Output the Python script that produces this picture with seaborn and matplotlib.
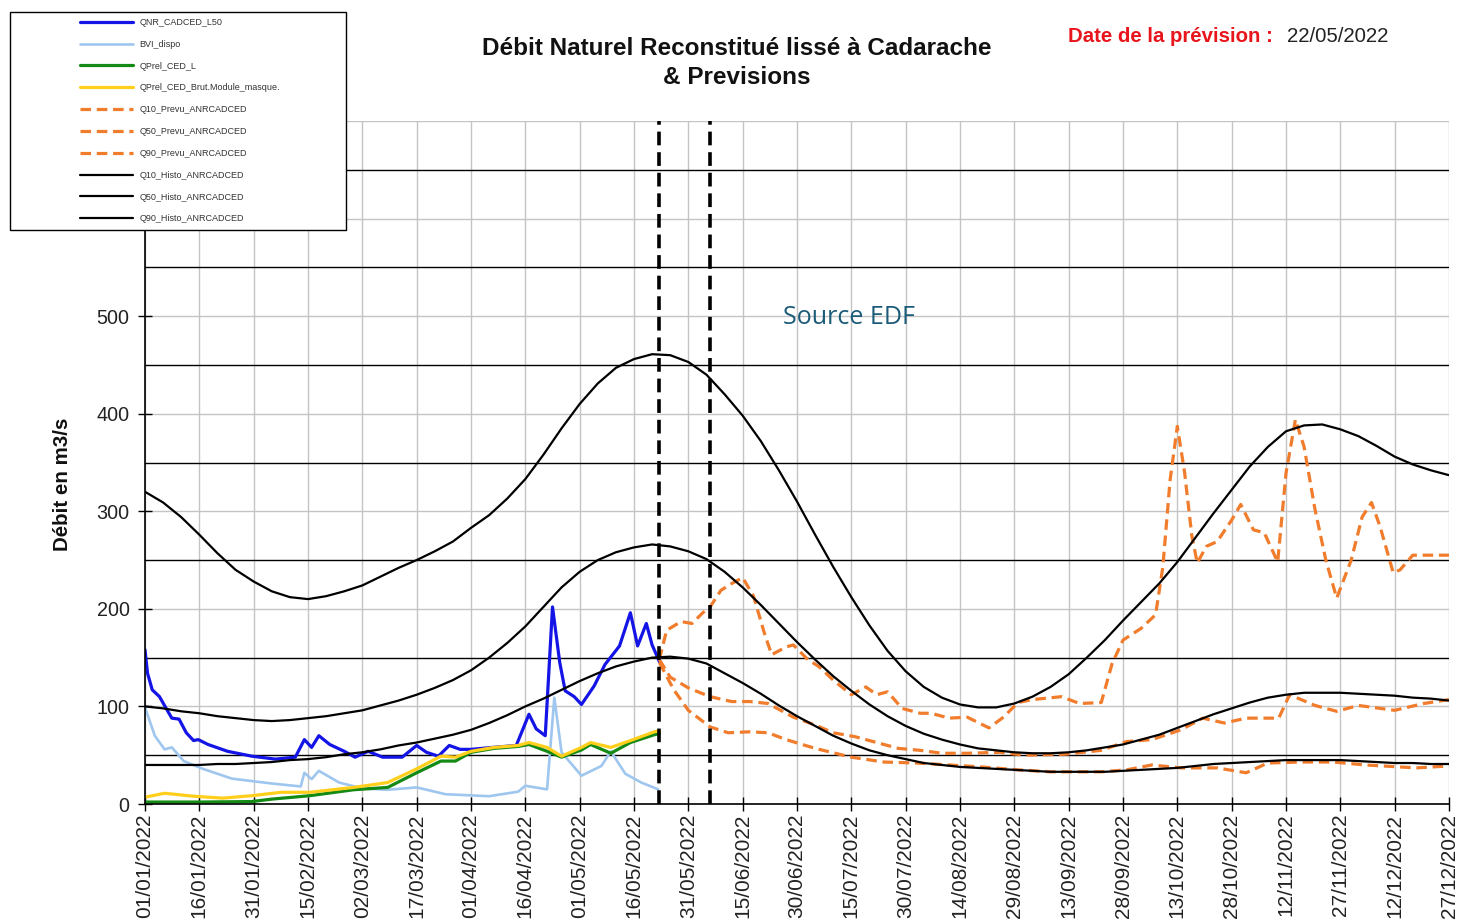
import pandas as pd
import matplotlib.pyplot as plt
import matplotlib.dates as mdates
import matplotlib.patches as mpatches
from matplotlib.ticker import MultipleLocator
import seaborn as sns

# jours comptés depuis le 01/01/2022
DEBUT = pd.Timestamp('2022-01-01')

# --- observé ---
qnr_jours = [0, 0.7, 2, 4, 6, 7.4, 9.4, 11.4, 13.4, 14.7, 17.4, 22.8, 29.5, 36, 41.5, 44, 46, 48,
             51, 55, 58, 61.6, 65.6, 71, 75, 77.7, 81, 84, 87, 90, 96, 102.5, 106, 108, 110.5,
             112.5, 114.5, 116, 118.5, 120.5, 124, 127, 131, 134, 136, 138.4, 140, 142]
qnr_vals = [158, 134, 117, 110, 97, 88, 87, 73, 65, 66, 61, 54, 49, 46, 48, 66, 58, 70,
            61, 54, 48, 54, 48, 48, 60, 53, 49, 60, 56, 56, 58, 60, 92, 77, 70,
            202, 145, 116, 110, 102, 121, 143, 162, 196, 162, 185, 163, 146]

bvi_jours = [0, 2.7, 5.4, 7.4, 10.7, 16, 24, 35, 43, 44, 46, 48, 53.6, 60, 67, 75, 83, 95,
             103, 105, 111, 113, 115, 120.5, 126, 128.6, 132.6, 137, 141.7]
bvi_vals = [99, 70, 56, 58, 44, 36, 26, 21, 18, 32, 25.5, 34, 22, 16, 14.6, 17, 10, 8,
            12.6, 18.7, 15, 109, 53, 29, 39, 54, 31, 22, 15]

ced_jours = [0, 15, 29.5, 35, 45.5, 57.6, 67, 75, 81.7, 85.7, 90, 96.4, 103, 106, 111, 115,
             120.5, 123, 128.6, 134, 140.6, 142]
ced_vals = [2, 2, 2.5, 5, 8.5, 14.6, 17, 32, 44, 44, 53, 57, 59, 61, 54, 48,
            55.4, 61, 52, 63, 71, 72]

brut_jours = [0, 5.4, 13.4, 21.4, 29.5, 37.5, 45.5, 57.6, 67, 75, 81.7, 85.7, 90, 96.4, 103,
              106, 111, 115, 120.5, 123, 128.6, 134, 140.6, 142]
brut_vals = [7, 11, 8, 6, 8.5, 12, 12, 17, 22, 36, 49, 48, 54, 58, 60,
             63, 58, 49, 58, 63, 58, 65, 74, 75]

# --- prévisions ---
q90p_jours = [142, 144, 148, 151, 154, 156, 159, 162, 165, 168, 171, 173, 177, 179, 183, 186,
              190, 195, 199, 202, 205, 209, 214, 217, 222, 227, 233, 237, 241, 245, 253, 258,
              264, 267, 270, 275, 279, 281, 283, 285, 287, 289, 290.5, 293, 296, 300, 302.5,
              306, 309, 312.7, 315, 317.6, 320, 323, 326, 329, 333, 336, 338.6, 341, 344.6,
              346.5, 350, 360]
q90p_vals = [148, 178, 187, 185, 196, 202, 219, 226, 232, 213, 175, 153, 161, 163, 148, 141,
             127, 112, 120, 112, 115, 98, 93, 93, 88, 89, 78, 89, 104, 107, 110, 103,
             104, 144, 168, 180, 194, 243, 332, 387, 340, 275, 247, 264, 269, 291, 307,
             281, 278, 248, 339, 394, 366, 302, 250, 211, 250, 294, 309, 284, 237,
             240, 255, 255]

q50p_jours = [142, 145, 150, 156, 162, 167, 172, 179, 185, 190, 196, 199, 208, 214, 220, 227,
              236, 243, 254, 264, 271, 278, 286, 292, 298, 304, 313, 316, 323, 329, 335, 345,
              353, 360]
q50p_vals = [148, 130, 119, 110, 105, 105, 103, 89, 81, 73, 69, 66, 57, 55, 52, 52,
             53, 50, 51, 55, 64, 66, 76, 88, 83, 88, 88, 112, 101, 95, 101, 96,
             103, 107]

q10p_jours = [142, 146, 150, 156, 161, 167, 172, 177, 185, 195, 204, 213, 222, 231, 241, 250,
              264, 271, 278, 286, 296, 304, 310, 319, 328, 337, 351, 360]
q10p_vals = [145, 117, 96, 79, 73, 74, 73, 66, 57, 48, 43, 42, 40, 38, 35, 33,
             33, 35, 40, 37, 37, 32, 42, 43, 43, 40, 37, 39]

# --- historiques (relevés tous les 5 jours) ---
histo_jours = list(range(0, 361, 5))
q90h_vals = [320, 309, 294, 276, 257, 240, 228, 218, 212, 210, 213, 218, 224, 233, 242, 250,
             259, 269, 283, 296, 313, 333, 358, 385, 410, 431, 447, 456, 461, 460, 453, 440,
             420, 398, 372, 342, 310, 276, 243, 212, 183, 157, 136, 120, 109, 102, 99, 99,
             103, 110, 120, 133, 150, 168, 188, 207, 226, 248, 273, 298, 322, 346, 366, 382,
             388, 389, 384, 377, 367, 356, 348, 342, 337]
q50h_vals = [100, 98, 95, 93, 90, 88, 86, 85, 86, 88, 90, 93, 96, 101, 106, 112,
             119, 127, 137, 150, 165, 182, 202, 222, 238, 250, 258, 263, 266, 264, 259, 251,
             238, 222, 204, 185, 166, 148, 131, 116, 102, 90, 80, 72, 66, 61, 57, 55,
             53, 52, 52, 53, 55, 58, 61, 66, 71, 78, 85, 92, 98, 104, 109, 112,
             114, 114, 114, 113, 112, 111, 109, 108, 106]
q10h_vals = [40, 40, 40, 40, 41, 41, 42, 43, 45, 46, 48, 51, 53, 56, 60, 63,
             67, 71, 76, 83, 91, 100, 108, 117, 126, 134, 141, 146, 150, 151, 149, 144,
             134, 124, 113, 101, 90, 80, 70, 62, 55, 50, 46, 42, 40, 38, 37, 36,
             35, 34, 33, 33, 33, 33, 34, 35, 36, 37, 39, 41, 42, 43, 44, 45,
             45, 45, 45, 44, 43, 42, 42, 41, 41]

date_prevision = '2022-05-23'
date_limite = '2022-06-06'

tirets = (0, (3.3, 1.8))
series = [
    ('QNR_CADCED_L50', qnr_jours, qnr_vals, '#1414e6', 2.3, '-'),
    ('BVI_dispo', bvi_jours, bvi_vals, '#9fc6ee', 1.9, '-'),
    ('QPrel_CED_L', ced_jours, ced_vals, '#138a13', 2.3, '-'),
    ('QPrel_CED_Brut.Module_masque.', brut_jours, brut_vals, '#ffcf1c', 2.3, '-'),
    ('Q10_Prevu_ANRCADCED', q10p_jours, q10p_vals, '#f07c2c', 2.3, tirets),
    ('Q50_Prevu_ANRCADCED', q50p_jours, q50p_vals, '#f07c2c', 2.3, tirets),
    ('Q90_Prevu_ANRCADCED', q90p_jours, q90p_vals, '#f07c2c', 2.3, tirets),
    ('Q10_Histo_ANRCADCED', histo_jours, q10h_vals, 'black', 1.6, '-'),
    ('Q50_Histo_ANRCADCED', histo_jours, q50h_vals, 'black', 1.6, '-'),
    ('Q90_Histo_ANRCADCED', histo_jours, q90h_vals, 'black', 1.6, '-'),
]


def to_dates(jours):
    return DEBUT + pd.to_timedelta(jours, unit='D')


sns.set_theme(style='white')
plt.rcParams['font.family'] = ['Liberation Sans', 'DejaVu Sans']

W, H = 1461, 924
fig = plt.figure(figsize=(W / 100, H / 100), dpi=100)
ax = fig.add_axes([145 / W, 1 - 804 / H, (1449 - 145) / W, (804 - 121) / H])

for nom, jours, vals, couleur, lw, ls in series:
    df = pd.DataFrame({'date': to_dates(jours), 'debit': vals})
    sns.lineplot(data=df, x='date', y='debit', ax=ax, color=couleur, linewidth=lw,
                 linestyle=ls, label=nom, estimator=None, legend=False)

for d in [date_prevision, date_limite]:
    ax.axvline(pd.Timestamp(d), color='black', linewidth=2.6, linestyle=(0, (3.8, 1.9)), zorder=5)

ax.set_xlim(DEBUT, DEBUT + pd.Timedelta(days=360))
ax.set_ylim(0, 700)
ax.set_xticks(pd.date_range(DEBUT, periods=25, freq='15D'))
ax.xaxis.set_major_formatter(mdates.DateFormatter('%d/%m/%Y'))
ax.yaxis.set_major_locator(MultipleLocator(100))
ax.yaxis.set_minor_locator(MultipleLocator(100, offset=50))

ax.grid(which='major', axis='both', color='#c4c4c4', linewidth=1)
ax.grid(which='minor', axis='y', color='black', linewidth=1)
ax.set_axisbelow(True)
ax.tick_params(axis='x', which='major', direction='inout', length=10, width=1, color='black',
               labelsize=15, labelrotation=90, pad=2, bottom=True)
ax.tick_params(axis='y', which='major', direction='inout', length=10, width=1, color='black',
               labelsize=14.2, pad=6, left=True)
ax.tick_params(axis='y', which='minor', length=0)
for lab in ax.get_xticklabels() + ax.get_yticklabels():
    lab.set_color('#222222')

for s in ['top', 'right']:
    ax.spines[s].set_visible(False)
for s in ['left', 'bottom']:
    ax.spines[s].set_color('black')
    ax.spines[s].set_linewidth(1.2)

ax.set_xlabel('')
ax.set_ylabel('')
fig.text(62 / W, 1 - 484 / H, 'Débit en m3/s', rotation=90, ha='center', va='center',
         fontsize=14.8, fontweight='bold', color='#111111')

fig.text(737 / W, 1 - 63 / H, 'Débit Naturel Reconstitué lissé à Cadarache\n& Previsions',
         ha='center', va='center', fontsize=17.5, fontweight='bold', linespacing=1.3,
         color='#111111')
fig.text(1068 / W, 1 - 36 / H, 'Date de la prévision :', ha='left', va='center',
         fontsize=14.7, fontweight='bold', color='#e8161c')
fig.text(1287 / W, 1 - 36 / H, '22/05/2022', ha='left', va='center', fontsize=14.7,
         color='#222222')
fig.text(849 / W, 1 - 317 / H, 'Source EDF', ha='center', va='center', fontsize=18,
         color='#1b5b78', family=['Open Sans', 'DejaVu Sans'])

# cadre de légende
cadre = mpatches.Rectangle((10 / W, 1 - 230 / H), 336 / W, 218 / H, transform=fig.transFigure,
                           facecolor='white', edgecolor='black', linewidth=1, zorder=2)
fig.add_artist(cadre)
handles, labels = ax.get_legend_handles_labels()
leg = fig.legend(handles, labels, loc='upper left', bbox_to_anchor=(80 / W, 1 - 18 / H),
                 frameon=False, fontsize=6.5, handlelength=5.9, handletextpad=0.7,
                 labelspacing=1.42, borderpad=0, borderaxespad=0)
leg.set_zorder(3)
for t in leg.get_texts():
    t.set_color('#333333')

fig.savefig('out.png', dpi=100)
